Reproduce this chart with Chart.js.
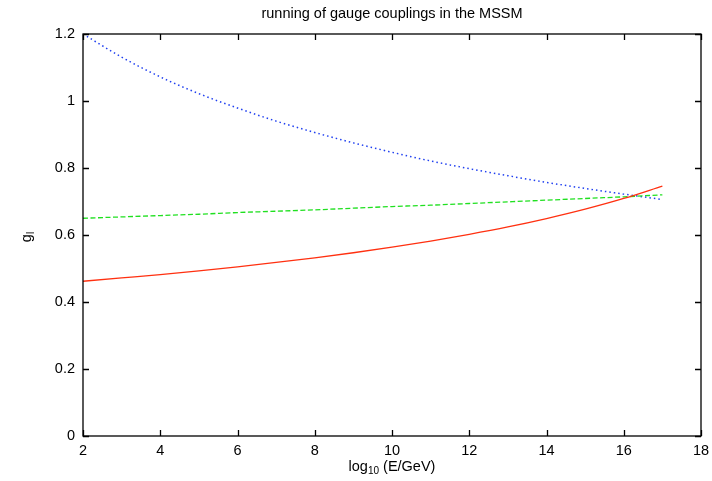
<!DOCTYPE html>
<html>
<head>
<meta charset="utf-8">
<script src="https://cdn.jsdelivr.net/npm/chart.js@4/dist/chart.umd.min.js"></script>
<style>
html,body{margin:0;padding:0;background:#fff;overflow:hidden;}
#wrap{width:712px;height:481px;position:relative;}
</style>
</head>
<body>
<div id="wrap"><canvas id="c" width="712" height="481"></canvas></div>
<script>
// log10(E/GeV)
const energies = [2,3,4,5,6,7,8,9,10,11,12,13,14,15,16,17];
// coupling g1 (red, solid)
const g1 = [0.462,0.472,0.482,0.493,0.505,0.518,0.532,0.547,0.564,0.582,0.602,0.624,0.649,0.677,0.709,0.746];
// coupling g2 (green, dashed)
const g2 = [0.650,0.654,0.658,0.662,0.667,0.671,0.675,0.680,0.685,0.689,0.694,0.699,0.704,0.709,0.714,0.720];
// coupling g3 (blue, dotted)
const g3 = [1.200,1.131,1.072,1.022,0.979,0.940,0.906,0.875,0.847,0.821,0.798,0.777,0.757,0.739,0.722,0.706];
const xTicks = [2,4,6,8,10,12,14,16,18];
const yTicks = [0,0.2,0.4,0.6,0.8,1,1.2];
const titleText = 'running of gauge couplings in the MSSM';

const FONT = '"Liberation Sans", Arial, Helvetica, sans-serif';
const FS = 14.5, SUB = 10;
const pts = arr => energies.map((e,i)=>({x:e,y:arr[i]}));

const framePlugin = {
  id:'frame',
  afterDraw(chart){
    const {ctx, chartArea:a, scales:{x,y}} = chart;
    ctx.save();
    ctx.strokeStyle = '#000';
    ctx.lineWidth = 1.3;
    ctx.strokeRect(a.left, a.top, a.right-a.left, a.bottom-a.top);
    const L = 6;
    ctx.beginPath();
    xTicks.forEach(v=>{
      const px = Math.round(x.getPixelForValue(v))+0.5;
      ctx.moveTo(px,a.bottom); ctx.lineTo(px,a.bottom-L);
      ctx.moveTo(px,a.top); ctx.lineTo(px,a.top+L);
    });
    yTicks.forEach(v=>{
      const py = Math.round(y.getPixelForValue(v))+0.5;
      ctx.moveTo(a.left,py); ctx.lineTo(a.left+L,py);
      ctx.moveTo(a.right,py); ctx.lineTo(a.right-L,py);
    });
    ctx.stroke();
    // title
    ctx.fillStyle = '#000';
    ctx.font = FS+'px ' + FONT;
    ctx.textAlign = 'center';
    ctx.textBaseline = 'middle';
    const cx = (a.left+a.right)/2;
    ctx.fillText(titleText, cx, 14);
    // x axis title with subscript
    const p1 = 'log', sub = '10', p2 = ' (E/GeV)';
    ctx.font = FS+'px ' + FONT;
    const w1 = ctx.measureText(p1).width, w3 = ctx.measureText(p2).width;
    ctx.font = SUB+'px ' + FONT;
    const w2 = ctx.measureText(sub).width;
    let sx = cx - (w1+w2+w3)/2;
    const ty = 467;
    ctx.textAlign = 'left';
    ctx.font = FS+'px ' + FONT;
    ctx.fillText(p1, sx, ty); sx += w1;
    ctx.font = SUB+'px ' + FONT;
    ctx.fillText(sub, sx, ty+4); sx += w2;
    ctx.font = FS+'px ' + FONT;
    ctx.fillText(p2, sx, ty);
    // y axis title g_l rotated
    ctx.translate(27, 237);
    ctx.rotate(-Math.PI/2);
    ctx.font = FS+'px ' + FONT;
    const wg = ctx.measureText('g').width;
    ctx.font = SUB+'px ' + FONT;
    const wl = ctx.measureText('l').width;
    ctx.font = FS+'px ' + FONT;
    ctx.fillText('g', -(wg+wl)/2, 0);
    ctx.font = SUB+'px ' + FONT;
    ctx.fillText('l', -(wg+wl)/2+wg, 4);
    ctx.restore();
  }
};

new Chart(document.getElementById('c'), {
  type:'line',
  data:{
    datasets:[
      {label:'g1', data:pts(g1), borderColor:'#ff3010', borderWidth:1.3, pointRadius:0, cubicInterpolationMode:'monotone', fill:false},
      {label:'g2', data:pts(g2), borderColor:'#20e020', borderWidth:1.3, borderDash:[5,2.5], pointRadius:0, cubicInterpolationMode:'monotone', fill:false},
      {label:'g3', data:pts(g3), borderColor:'#2040f0', borderWidth:1.5, borderDash:[1.5,3], pointRadius:0, cubicInterpolationMode:'monotone', fill:false}
    ]
  },
  options:{
    responsive:false,
    animation:false,
    layout:{padding:{left:0, top:34, right:11, bottom:0}},
    plugins:{legend:{display:false}, title:{display:false}, tooltip:{enabled:false}},
    scales:{
      x:{
        type:'linear', min:2, max:18,
        afterBuildTicks(s){ s.ticks = xTicks.map(v=>({value:v})); },
        afterFit(s){ s.height = 45; s.paddingLeft = 0; s.paddingRight = 0; },
        grid:{display:false, drawTicks:false},
        border:{display:false},
        ticks:{color:'#000', font:{family:FONT, size:FS}, padding:6, maxRotation:0, autoSkip:false,
               callback:v=>String(v)}
      },
      y:{
        type:'linear', min:0, max:1.2,
        afterBuildTicks(s){ s.ticks = yTicks.map(v=>({value:v})); },
        afterFit(s){ s.width = 83; s.paddingTop = 0; s.paddingBottom = 0; },
        grid:{display:false, drawTicks:false},
        border:{display:false},
        ticks:{color:'#000', font:{family:FONT, size:FS}, padding:8, autoSkip:false,
               callback:v=>String(Number(v.toFixed(1)))}
      }
    }
  },
  plugins:[framePlugin]
});
</script>
</body>
</html>
